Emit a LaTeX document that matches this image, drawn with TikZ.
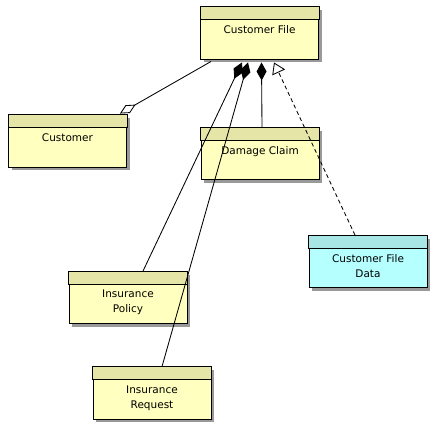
\documentclass[tikz,border=0pt]{standalone}
\usepackage{fontspec}
\setmainfont{DejaVu Sans}
\usepackage{tikz}
\usetikzlibrary{positioning, calc, arrows.meta, shadows}
\definecolor{classyellow}{rgb}{1.0, 1.0, 0.75}
\definecolor{headyellow}{rgb}{0.9, 0.9, 0.66}
\definecolor{classcyan}{rgb}{0.71, 1.0, 1.0}
\definecolor{headcyan}{rgb}{0.66, 0.9, 0.9}

\begin{document}
\begin{tikzpicture}[x=1pt, y=-1pt,
  classbox/.style={draw=black, line width=0.9pt, fill=classyellow, minimum width=118pt, minimum height=52pt, inner sep=0pt,
    drop shadow={shadow xshift=3pt, shadow yshift=-3pt, fill=black!40, opacity=1}},
  classname/.style={anchor=north, inner sep=0pt, align=center, font=\fontsize{10.5}{15}\selectfont},
  link/.style={line width=0.85pt},
  aggr/.style={link, -{Diamond[open, length=18pt, width=9pt]}},
  comp/.style={link, -{Diamond[length=18pt, width=10pt]}},
  real/.style={link, dash pattern=on 4pt off 3pt, -{Triangle[open, length=11pt, width=14pt]}}]
\useasboundingbox (0,0) rectangle (436,432);
\pgfmathsetmacro{\headh}{13}
\pgfmathsetmacro{\namey}{19}

\node[classbox] (custfile) at (259.5,33) {};
\node[classbox] (customer) at (67.5,141) {};
\node[classbox] (claim) at (260,153.5) {};
\node[classbox] (policy) at (128,297.5) {};
\node[classbox] (request) at (152,393) {};
\node[classbox, fill=classcyan] (filedata) at (368,261.5) {};

\foreach \n/\c in {custfile/headyellow, customer/headyellow, claim/headyellow, policy/headyellow, request/headyellow, filedata/headcyan}
  \draw[line width=0.9pt, fill=\c] (\n.north west) rectangle ([yshift=-\headh pt]\n.north east);

\node[classname] (custfile-name) at ([yshift=-\namey pt]custfile.north) {Customer File};
\node[classname] (customer-name) at ([yshift=-\namey pt]customer.north) {Customer};
\node[classname] (claim-name) at ([yshift=-\namey pt]claim.north) {Damage Claim};
\node[classname] (policy-name) at ([yshift=-\namey pt]policy.north) {Insurance\\Policy};
\node[classname] (request-name) at ([yshift=-\namey pt]request.north) {Insurance\\Request};
\node[classname] (filedata-name) at ([yshift=-\namey pt]filedata.north) {Customer File\\Data};

% associations
\draw[aggr] ([xshift=11pt, yshift=-2pt]custfile.south west) -- ([xshift=-7pt, yshift=1pt]customer.north east);
\draw[comp] ([xshift=15pt]policy.north) -- ([xshift=-17.5pt, yshift=-3pt]custfile.south);
\draw[comp] ([xshift=10pt]request.north) -- ([xshift=-11.5pt, yshift=-3pt]custfile.south);
\draw[comp] ([xshift=2pt]claim.north) -- ([xshift=2pt, yshift=-3pt]custfile.south);
\draw[real] ([xshift=-13pt]filedata.north) -- ([xshift=14.5pt, yshift=-3pt]custfile.south);

\end{tikzpicture}
\end{document}
